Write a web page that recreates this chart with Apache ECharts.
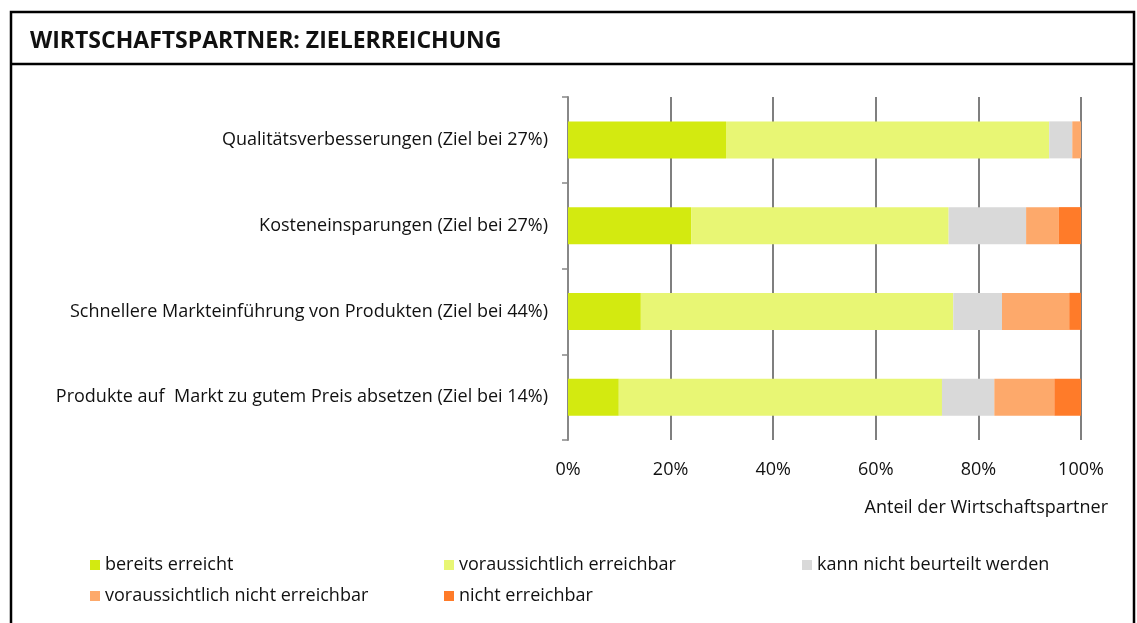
<!DOCTYPE html>
<html><head><meta charset="utf-8">
<script src="https://cdn.jsdelivr.net/npm/echarts@6/dist/echarts.min.js"></script>
<style>html,body{margin:0;padding:0;background:#fff}#c{width:1137px;height:623px}</style>
</head><body><div id="c"></div>
<script>
const categories = [
  'Qualitätsverbesserungen (Ziel bei 27%)',
  'Kosteneinsparungen (Ziel bei 27%)',
  'Schnellere Markteinführung von Produkten (Ziel bei 44%)',
  'Produkte auf  Markt zu gutem Preis absetzen (Ziel bei 14%)'
];
const seriesNames = ['bereits erreicht','voraussichtlich erreichbar','kann nicht beurteilt werden','voraussichtlich nicht erreichbar','nicht erreichbar'];
const bereitsErreicht = [30.8, 24.0, 14.2, 9.9];
const vorausErreichbar = [63.0, 50.2, 60.9, 63.0];
const kannNicht = [4.5, 15.1, 9.5, 10.2];
const vorausNicht = [1.7, 6.4, 13.1, 11.7];
const nichtErreichbar = [0, 4.3, 2.3, 5.2];
const xTicks = [0, 20, 40, 60, 80, 100];
const colors = ['#D3EA10', '#E8F674', '#D9D9D9', '#FDA96B', '#FF7B29'];
const values = [bereitsErreicht, vorausErreichbar, kannNicht, vorausNicht, nichtErreichbar];

const FONT = '"Open Sans", sans-serif';
const chart = echarts.init(document.getElementById('c'));
const legendText = {fontFamily: FONT, fontSize: 18, color: '#111'};
const legendBase = {orient: 'vertical', itemWidth: 10, itemHeight: 10, icon: 'rect', itemGap: 13, textStyle: legendText, selectedMode: false};
chart.setOption({
  animation: false,
  title: {text: 'WIRTSCHAFTSPARTNER: ZIELERREICHUNG', left: 25, top: 25,
    textStyle: {fontFamily: FONT, fontWeight: 'bold', fontSize: 23, color: '#111'}},
  graphic: [
    {type: 'rect', shape: {x: 11, y: 12, width: 1123, height: 700}, style: {fill: 'none', stroke: '#000', lineWidth: 2.5}},
    {type: 'line', shape: {x1: 11, y1: 64, x2: 1134, y2: 64}, style: {stroke: '#000', lineWidth: 2.5}},
    {type: 'text', right: 29, top: 499, style: {text: 'Anteil der Wirtschaftspartner', font: '18px ' + FONT, fill: '#111'}}
  ],
  legend: [
    Object.assign({left: 85, top: 551, data: [seriesNames[0], seriesNames[3]]}, legendBase),
    Object.assign({left: 439, top: 551, data: [seriesNames[1], seriesNames[4]]}, legendBase),
    Object.assign({left: 797, top: 551, data: [seriesNames[2]]}, legendBase)
  ],
  grid: {left: 568, right: 56, top: 97, bottom: 183},
  xAxis: {type: 'value', min: 0, max: 100, interval: 20,
    axisLine: {show: false}, axisTick: {show: false},
    axisLabel: {formatter: v => xTicks.includes(v) ? v + '%' : '', margin: 21, fontFamily: FONT, fontSize: 18, color: '#111'},
    splitLine: {show: true, lineStyle: {color: '#555', width: 1.5}}},
  yAxis: {type: 'category', data: categories, inverse: true,
    axisLine: {show: true, lineStyle: {color: '#888', width: 2}},
    axisTick: {show: true, length: 6, lineStyle: {color: '#888', width: 1.5}},
    axisLabel: {margin: 20, fontFamily: FONT, fontSize: 18, color: '#111'}},
  series: seriesNames.map((n, i) => ({
    name: n, type: 'bar', stack: 'a', barWidth: 37, data: values[i],
    itemStyle: {color: colors[i]}
  }))
});
</script></body></html>
